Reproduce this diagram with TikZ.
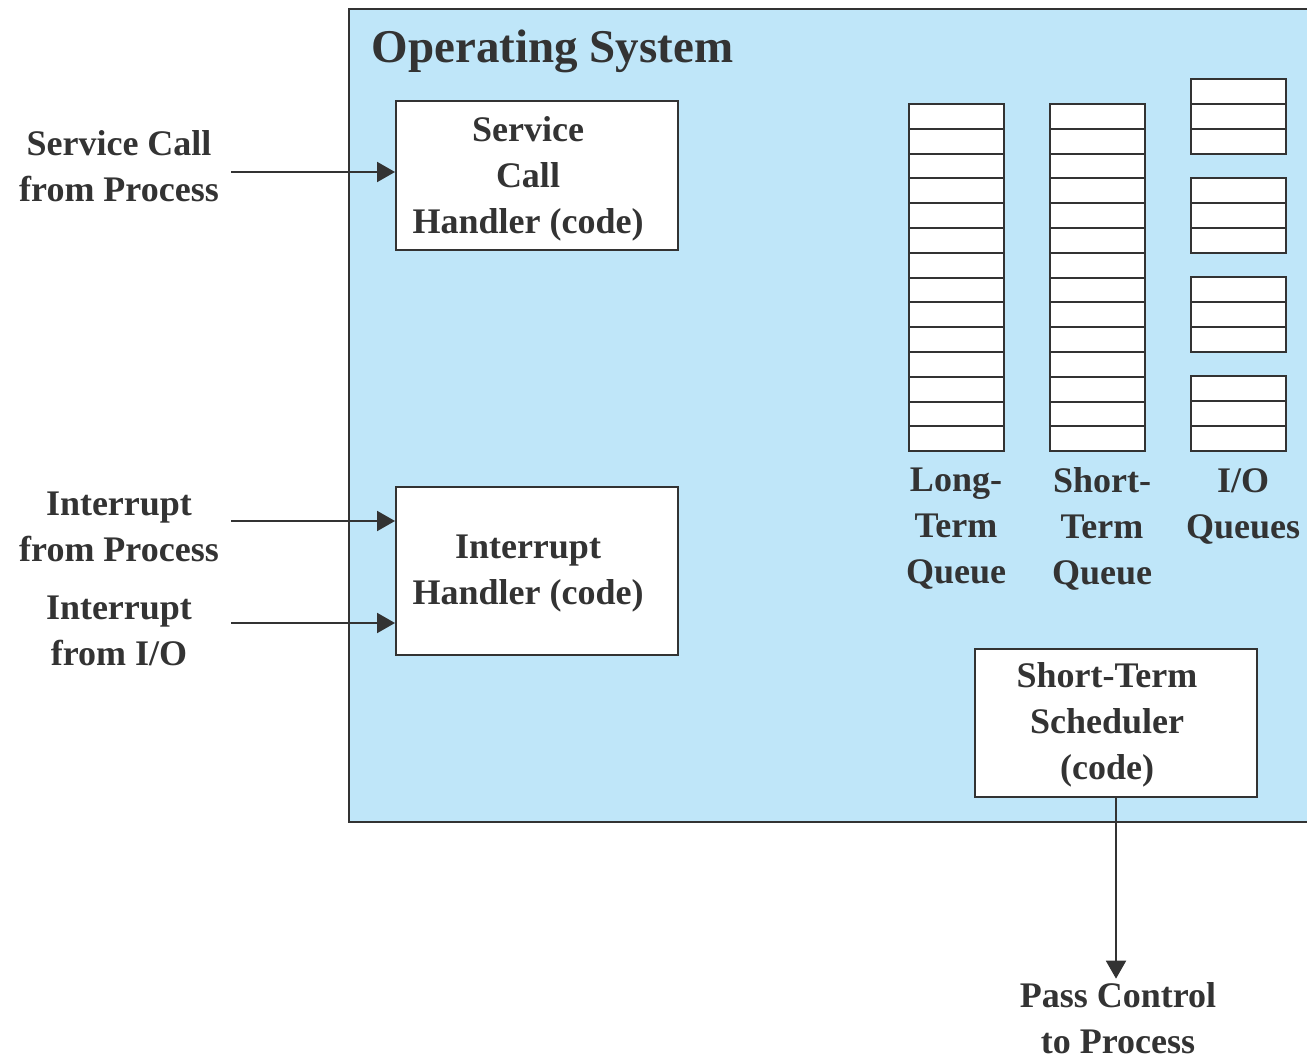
\documentclass[tikz,border=0pt]{standalone}
\usepackage{fontspec}
\setmainfont{Liberation Serif}
\usetikzlibrary{arrows.meta}
\definecolor{osblue}{RGB}{191,230,249}
\definecolor{ink}{RGB}{51,51,51}
\tikzset{every picture/.style={line width=1pt}}

\begin{document}
\begin{tikzpicture}[x=0.5pt,y=0.5pt,yscale=-1,
  box/.style={draw=ink,fill=white,inner sep=0pt},
  cell/.style={draw=ink,fill=white},
  lbl/.style={text=ink,align=center,font=\fontsize{18}{23}\selectfont\bfseries},
  arr/.style={draw=ink,-{Triangle[length=9pt,width=10pt]}}]
\useasboundingbox (0,0) rectangle (1307,1059);

%Shape: Rectangle [operating system]
\draw [draw=ink,fill=osblue] (349,9) rectangle (1340,822);
\node [lbl,anchor=west,font=\fontsize{23.5}{28}\selectfont\bfseries] (os) at (364,51) {Operating System};

%Shape: Rectangle [handlers]
\node [box,minimum width=141pt,minimum height=74.5pt] (sch) at (537,175.5) {};
\node [box,minimum width=141pt,minimum height=84pt] (ih) at (537,571) {};
\node [box,minimum width=141pt,minimum height=74pt] (sts) at (1116,723) {};
\node [lbl] (scht) at ([xshift=-4.5,yshift=1.5]sch.center) {Service\\Call\\Handler (code)};
\node [lbl] (iht) at ([xshift=-4.5,yshift=1.5]ih.center) {Interrupt\\Handler (code)};
\node [lbl] (stst) at ([xshift=-4.5,yshift=1]sts.center) {Short-Term\\Scheduler\\(code)};

%Shape: Queues
\foreach \i in {0,...,13} {
  \draw [cell] (909,{104+\i*24.8}) rectangle ++(95,24.8);
  \draw [cell] (1050,{104+\i*24.8}) rectangle ++(95,24.8);
}
\foreach \t in {79,178,277,376}
  \foreach \i in {0,1,2}
    \draw [cell] (1191,{\t+\i*25}) rectangle ++(95,25);

\node [lbl] (ltq) at (956,529) {Long-\\Term\\Queue};
\node [lbl] (stq) at (1102,529) {Short-\\Term\\Queue};
\node [lbl] (ioq) at (1243,506) {I/O\\Queues};

%Text: outside inputs
\node [lbl] (scp) at (119,166) {Service Call\\from Process};
\node [lbl] (ip) at (119,527) {Interrupt\\from Process};
\node [lbl] (iio) at (119,631) {Interrupt\\from I/O};
\node [lbl] (pc) at (1118,1018) {Pass Control\\to Process};

%Straight Lines
\coordinate (scin) at (231,172);
\coordinate (ipin) at (231,521);
\coordinate (iioin) at (231,623);
\draw [arr] (scin) -- (scin -| sch.west);
\draw [arr] (ipin) -- (ipin -| ih.west);
\draw [arr] (iioin) -- (iioin -| ih.west);
\draw [arr] (sts.south) -- ([yshift=2pt]sts.south |- pc.north);

\end{tikzpicture}
\end{document}
